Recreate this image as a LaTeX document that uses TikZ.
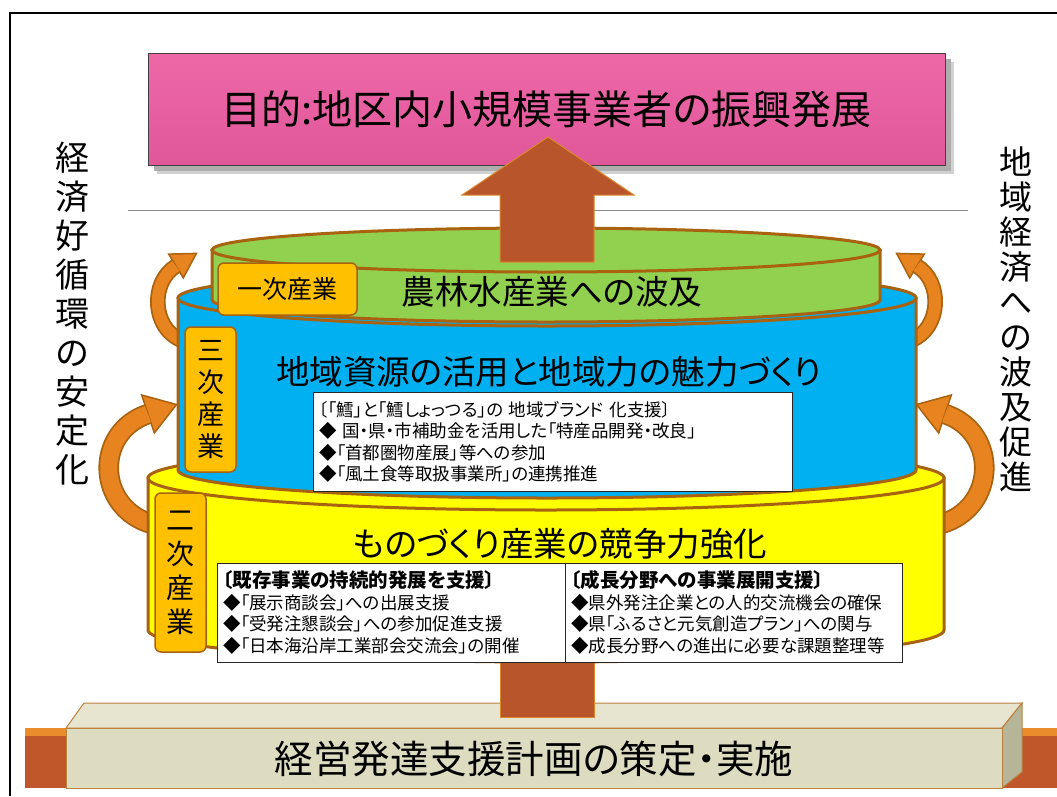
\documentclass[tikz,border=0pt]{standalone}
\usepackage{fontspec}
\setmainfont{Noto Sans CJK JP}[RawFeature=+palt]
\usetikzlibrary{positioning}

\definecolor{goalpink}{HTML}{E0579A}
\definecolor{goalpinktop}{HTML}{EE68A8}
\definecolor{trunkbrown}{HTML}{B9552A}
\definecolor{trunkedge}{HTML}{D98A2E}
\definecolor{rimbrown}{HTML}{A9620F}
\definecolor{leaf}{HTML}{92D050}
\definecolor{sky}{HTML}{00B0F0}
\definecolor{sun}{HTML}{FFFF00}
\definecolor{tagorange}{HTML}{FFC000}
\definecolor{loopfill}{HTML}{E8841F}
\definecolor{plinth}{HTML}{DDDBC0}
\definecolor{plinthtop}{HTML}{E7E5D0}
\definecolor{plinthside}{HTML}{B7B597}
\definecolor{bandred}{HTML}{C0572B}
\definecolor{bandtop}{HTML}{EA8B2C}

% one tier of the cake: colour, centre x, top y, bottom y, radii
\newcommand{\tier}[6]{%
  \filldraw[drumrim, fill=#1] (#2-#5,#3) -- (#2-#5,#4)
    arc[start angle=180, end angle=0, x radius=#5, y radius=#6] -- (#2+#5,#3) -- cycle;
  \filldraw[drumrim, fill=#1] (#2,#3) ellipse[x radius=#5, y radius=#6];
}

\begin{document}
\begin{tikzpicture}[x=1pt, y=1pt, yscale=-1,
  drumrim/.style={draw=rimbrown, line width=3pt},
  tagbox/.style={fill=tagorange, draw=rimbrown, line width=1.5pt, rounded corners=6pt, inner sep=0pt, align=center},
  drumtitle/.style={font=\fontsize{33.5}{37}\selectfont},
  infobox/.style={draw=black!85, line width=1pt, fill=white, align=left, inner xsep=6pt, inner ysep=0pt, minimum height=99pt, font=\fontsize{17.5}{21.5}\selectfont},
  sidelabel/.style={align=center},
  loopband/.style={draw=rimbrown, line width=1.8pt, double=loopfill, double distance=12pt},
  loophead/.style={fill=loopfill, draw=rimbrown, line width=1.5pt},
  trunk/.style={fill=trunkbrown, draw=trunkedge, line width=1pt}]

\useasboundingbox (0,0) rectangle (1057,796);
\draw[line width=1.5pt] (1057,13) -- (10,13) -- (10,796);

% base plinth
\fill[bandred] (25,730) rectangle (1057,788);
\fill[bandtop] (25,728) rectangle (1057,736);
\filldraw[draw=rimbrown!80, line width=1pt, fill=plinthtop] (66,728) -- (84,703) -- (1022,703) -- (1002,728) -- cycle;
\filldraw[draw=rimbrown!80, line width=1pt, fill=plinthside] (1002,728) -- (1022,703) -- (1022,772) -- (1002,788) -- cycle;
\filldraw[draw=rimbrown!80, line width=1pt, fill=plinth] (66,728) rectangle (1002,788);
\node[font=\fontsize{38.5}{42}\selectfont] (plan) at (534,759) {経営発達支援計画の策定・実施};

% trunk below the cake
\filldraw[trunk] (500,640) rectangle (594,717);

% circulation arrows, left side and its mirror
\foreach \s in {1,-1} {
  \begin{scope}[shift={(546.5,0)}, xscale=\s, shift={(-546.5,0)}]
    \filldraw[loophead] (183.3,277.9) -- (196.4,253.4) -- (168.7,254.1) -- cycle;
    \draw[loopband] (181,340) .. controls (152,328) and (150,282) .. (176,266);
    \filldraw[loophead] (154.3,433) -- (176.5,404.5) -- (141.7,395) -- cycle;
    \draw[loopband, double distance=17pt] (152,524) .. controls (96,508) and (94,432) .. (148,414);
  \end{scope}
}

% the three tiers
\tier{sun}{546}{478}{630}{398}{32}
\tier{sky}{547}{298}{470}{369}{28}
\tier{leaf}{546}{250}{300}{334}{22}

\node[tagbox, minimum width=139pt, minimum height=52pt, font=\fontsize{25}{28}\selectfont] (primary) at (287.5,289) {一次産業};
\node[tagbox, minimum width=51pt, minimum height=145pt, font=\fontsize{27}{32}\selectfont] (tertiary) at (210.5,399.5) {三\\次\\産\\業};
\node[tagbox, minimum width=51pt, minimum height=159pt, font=\fontsize{28}{34}\selectfont] (secondary) at (180.5,572.5) {二\\次\\産\\業};

\node[drumtitle] (fishery) at (552,292) {農林水産業への波及};
\node[drumtitle] (regional) at (549,372) {地域資源の活用と地域力の魅力づくり};
\node[drumtitle] (craft) at (560,544) {ものづくり産業の競争力強化};

\node[infobox, minimum width=479pt, text width=467pt] (brand) at (552.5,442)
  {〔「鱈」と「鱈しょっつる」の 地域ブランド 化支援〕\\
   ◆ 国・県・市補助金を活用した「特産品開発・改良」\\
   ◆「首都圏物産展」等への参加\\
   ◆「風土食等取扱事業所」の連携推進};

\node[infobox, minimum width=348pt, text width=336pt] (keep) at (391,612.5)
  {{\fontsize{19.5}{21.5}\selectfont\bfseries 〔既存事業の持続的発展を支援〕}\\
   ◆「展示商談会」への出展支援\\
   ◆「受発注懇談会」への参加促進支援\\
   ◆「日本海沿岸工業部会交流会」の開催};
\node[infobox, minimum width=337pt, text width=325pt, right=-1pt of keep] (grow)
  {{\fontsize{19.5}{21.5}\selectfont\bfseries 〔成長分野への事業展開支援〕}\\
   ◆県外発注企業との人的交流機会の確保\\
   ◆県「ふるさと元気創造プラン」への関与\\
   ◆成長分野への進出に必要な課題整理等};

% goal
\draw[black!45, line width=0.8pt] (128,210) -- (968,210);
\fill[black!18] (157,62) rectangle (954,174);
\fill[black!32] (154,59) rectangle (951,171);
\node[draw=black!75, line width=1pt, top color=goalpinktop, bottom color=goalpink,
  minimum width=797pt, minimum height=112pt, font=\fontsize{40}{44}\selectfont] (goal) at (546.5,109)
  {目的:地区内小規模事業者の振興発展};

% trunk rising to the goal
\filldraw[trunk] (500,262) -- (500,195) -- (462,195) -- (548,137) -- (634,195) -- (594,195) -- (594,262) -- cycle;

\node[sidelabel, font=\fontsize{34}{39}\selectfont] (cycle) at (72,314) {経\\済\\好\\循\\環\\の\\安\\定\\化};
\node[sidelabel, font=\fontsize{33}{35}\selectfont] (spread) at (1016,319) {地\\域\\経\\済\\へ\\の\\波\\及\\促\\進};

\end{tikzpicture}
\end{document}
